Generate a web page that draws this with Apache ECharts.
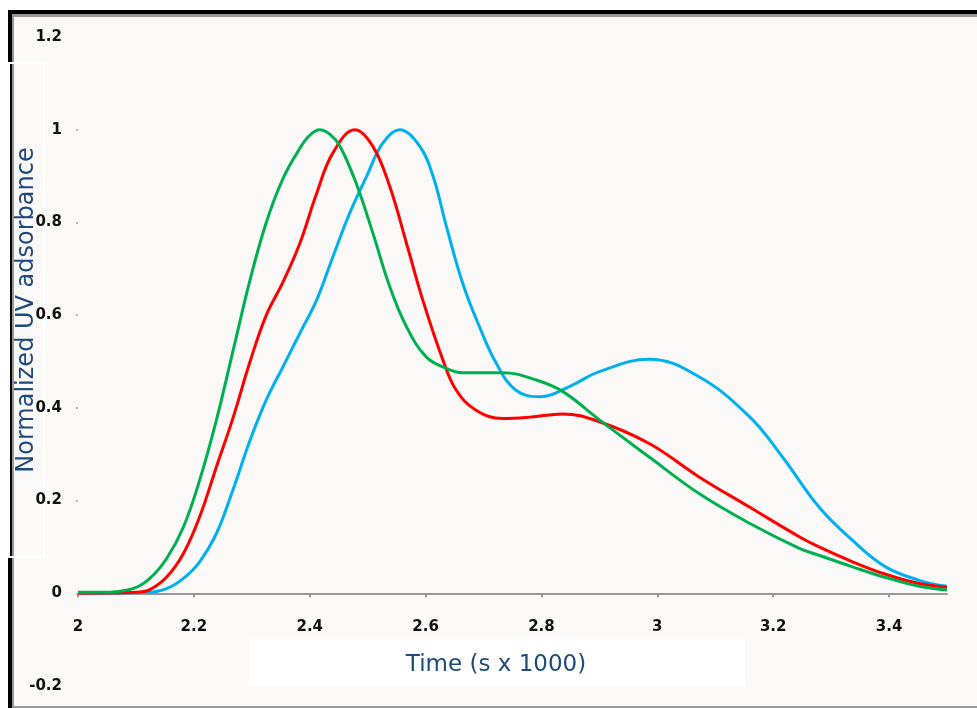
<!DOCTYPE html>
<html>
<head>
<meta charset="utf-8">
<script src="https://cdn.jsdelivr.net/npm/echarts@6/dist/echarts.min.js"></script>
<style>
html,body{margin:0;padding:0;background:#fff;}
#chart{width:977px;height:708px;}
</style>
</head>
<body>
<div id="chart"></div>
<script>
// ---- data ----
const xTickLabels = [2, 2.2, 2.4, 2.6, 2.8, 3, 3.2, 3.4];
const yTickLabels = [-0.2, 0, 0.2, 0.4, 0.6, 0.8, 1, 1.2];

const greenTime = [2.0, 2.04, 2.095, 2.124, 2.153, 2.182, 2.21, 2.239, 2.268, 2.297, 2.325, 2.354, 2.383, 2.40, 2.417, 2.435, 2.452, 2.48, 2.509, 2.538, 2.567, 2.601, 2.636, 2.664, 2.733, 2.791, 2.837, 2.9, 2.986, 3.072, 3.159, 3.245, 3.279, 3.337, 3.394, 3.452, 3.5];
const greenValue = [0.002, 0.002, 0.01, 0.032, 0.075, 0.143, 0.244, 0.374, 0.525, 0.676, 0.80, 0.895, 0.96, 0.988, 1.0, 0.99, 0.965, 0.885, 0.777, 0.662, 0.575, 0.51, 0.485, 0.476, 0.476, 0.46, 0.435, 0.374, 0.294, 0.215, 0.151, 0.097, 0.082, 0.057, 0.034, 0.015, 0.007];

const redTime = [2.0, 2.1, 2.124, 2.153, 2.182, 2.21, 2.239, 2.268, 2.297, 2.325, 2.354, 2.383, 2.412, 2.44, 2.478, 2.509, 2.538, 2.567, 2.595, 2.63, 2.653, 2.687, 2.733, 2.78, 2.837, 2.9, 2.986, 3.072, 3.159, 3.245, 3.279, 3.337, 3.394, 3.452, 3.5];
const redValue = [0.0, 0.002, 0.008, 0.035, 0.086, 0.165, 0.273, 0.38, 0.5, 0.6, 0.672, 0.755, 0.863, 0.95, 1.0, 0.964, 0.878, 0.755, 0.633, 0.503, 0.438, 0.395, 0.377, 0.38, 0.387, 0.37, 0.323, 0.251, 0.186, 0.122, 0.1, 0.068, 0.041, 0.021, 0.013];

const blueTime = [2.0, 2.12, 2.153, 2.182, 2.21, 2.239, 2.268, 2.297, 2.325, 2.354, 2.383, 2.412, 2.44, 2.469, 2.498, 2.526, 2.555, 2.59, 2.613, 2.636, 2.664, 2.693, 2.722, 2.756, 2.797, 2.848, 2.9, 2.986, 3.072, 3.159, 3.216, 3.279, 3.337, 3.394, 3.452, 3.5];
const blueValue = [0.0, 0.002, 0.01, 0.032, 0.068, 0.129, 0.225, 0.33, 0.417, 0.489, 0.561, 0.633, 0.726, 0.82, 0.899, 0.971, 1.0, 0.964, 0.899, 0.791, 0.669, 0.575, 0.496, 0.438, 0.424, 0.446, 0.478, 0.505, 0.467, 0.381, 0.294, 0.186, 0.114, 0.057, 0.028, 0.015];

const xTitle = 'Time (s x 1000)';
const yTitle = 'Normalized UV adsorbance';

function pairs(t, v) { return t.map((x, i) => [x, v[i]]); }

const chart = echarts.init(document.getElementById('chart'), null, {renderer: 'canvas'});

const labelFont = {color: '#111', fontWeight: 'bold', fontSize: 15, fontFamily: 'DejaVu Sans'};

// grid 0: full value range (-0.2 .. 1.2) carrying the y labels
// grid 1: same left/right, bottom edge at value 0, carrying the x axis and the curves
const gridLeft = 78, gridRight = 30, gridTop = 37;
const gridBottomFull = 22;
const pxPerUnit = (708 - gridTop - gridBottomFull) / (1.2 - (-0.2));
const gridBottomZero = gridBottomFull + 0.2 * pxPerUnit;

const lineCommon = {type: 'line', xAxisIndex: 1, yAxisIndex: 1, smooth: 0.4, showSymbol: false, clip: false};

chart.setOption({
  backgroundColor: '#ffffff',
  animation: false,
  grid: [
    {left: gridLeft, right: gridRight, top: gridTop, bottom: gridBottomFull, containLabel: false, outerBoundsMode: 'none'},
    {left: gridLeft, right: gridRight, top: gridTop, bottom: gridBottomZero, containLabel: false, outerBoundsMode: 'none'}
  ],
  xAxis: [
    {gridIndex: 0, type: 'value', min: 2, max: 3.5, show: false},
    {
      gridIndex: 1, type: 'value', min: 2, max: 3.5, interval: 0.2,
      axisLine: {onZero: false, lineStyle: {color: '#999', width: 2}},
      axisTick: {show: true, length: 4, lineStyle: {color: '#999', width: 2}, customValues: xTickLabels},
      axisLabel: Object.assign({margin: 26, customValues: xTickLabels}, labelFont),
      splitLine: {show: false}
    }
  ],
  yAxis: [
    {
      gridIndex: 0, type: 'value', min: -0.2, max: 1.2, interval: 0.2,
      axisLine: {show: false},
      axisTick: {show: true, length: 2, lineStyle: {color: '#bbb', width: 2}, customValues: yTickLabels.filter(v => v >= 0 && v <= 1)},
      axisLabel: Object.assign({margin: 16, customValues: yTickLabels}, labelFont),
      splitLine: {show: false}
    },
    {gridIndex: 1, type: 'value', min: 0, max: 1.2, show: false, splitLine: {show: false}}
  ],
  series: [
    Object.assign({name: 'blue', data: pairs(blueTime, blueValue), lineStyle: {color: '#00B0F0', width: 3}, z: 3}, lineCommon),
    Object.assign({name: 'red', data: pairs(redTime, redValue), lineStyle: {color: '#FF0000', width: 3}, z: 4}, lineCommon),
    Object.assign({name: 'green', data: pairs(greenTime, greenValue), lineStyle: {color: '#00B050', width: 3}, z: 5}, lineCommon)
  ],
  graphic: [
    {type: 'rect', z: -10, shape: {x: 8, y: 10, width: 969, height: 698}, style: {fill: '#FAF9F7'}},
    {type: 'rect', z: -9, shape: {x: 8, y: 10, width: 969, height: 4}, style: {fill: '#000'}},
    {type: 'rect', z: -9, shape: {x: 12, y: 14, width: 965, height: 3}, style: {fill: '#999'}},
    {type: 'rect', z: -9, shape: {x: 8, y: 10, width: 4, height: 698}, style: {fill: '#000'}},
    {type: 'rect', z: -9, shape: {x: 12, y: 14, width: 2, height: 694}, style: {fill: '#999'}},
    {type: 'rect', z: -9, shape: {x: 12, y: 706, width: 965, height: 2}, style: {fill: '#999'}},
    {type: 'rect', z: -8, shape: {x: 9, y: 63, width: 35, height: 494}, style: {fill: null, stroke: '#fff', lineWidth: 2}},
    {type: 'rect', z: -8, shape: {x: 249, y: 639, width: 496, height: 48}, style: {fill: '#fff'}},
    {type: 'text', z: 10, x: 496, y: 665, style: {text: xTitle, fill: '#1F497D', font: '23px "DejaVu Sans"', textAlign: 'center', textVerticalAlign: 'middle'}},
    {type: 'text', z: 10, x: 27, y: 310, rotation: Math.PI / 2, style: {text: yTitle, fill: '#1F497D', font: '24px "DejaVu Sans"', textAlign: 'center', textVerticalAlign: 'middle'}}
  ]
});
</script>
</body>
</html>
